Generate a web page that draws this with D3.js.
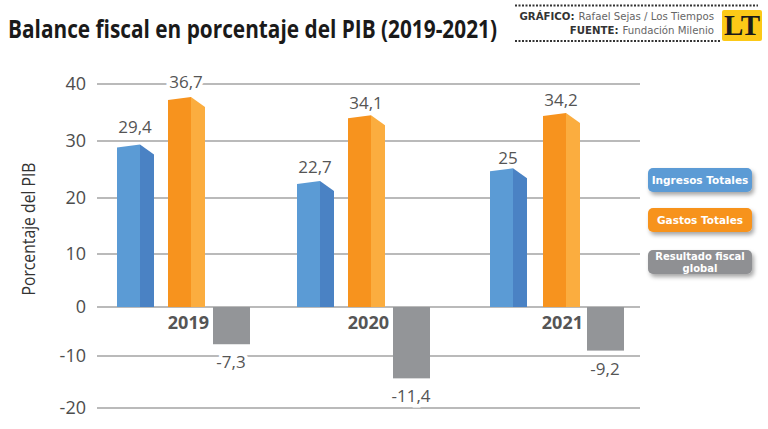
<!DOCTYPE html>
<html>
<head>
<meta charset="utf-8">
<script src="https://cdn.jsdelivr.net/npm/d3@7"></script>
<style>
  html, body { margin: 0; padding: 0; background: #fff; }
  svg { display: block; }
  text { font-family: "Open Sans", sans-serif; }
</style>
</head>
<body>
<div id="chart"></div>
<script>
var years = ["2019", "2020", "2021"];
var yTicks = [40, 30, 20, 10, 0, -10, -20];

// printed labels
var ingresosLabels = ["29,4", "22,7", "25"];
var gastosLabels = ["36,7", "34,1", "34,2"];
var resultadoLabels = ["-7,3", "-11,4", "-9,2"];

// bar heights as read against the axis (the original is not drawn quite to scale)
var ingresos = [29.4, 23, 25.2];
var gastos = [37.7, 34.5, 34.9];
var resultado = [-7.6, -14.3, -8.9];

var legendItems = ["Ingresos Totales", "Gastos Totales", "Resultado fiscal|global"];

var width = 768, height = 429;

var svg = d3.select("#chart").append("svg")
  .attr("width", width)
  .attr("height", height);

var defs = svg.append("defs");
var blur = defs.append("filter").attr("id", "shadow")
  .attr("x", "-10%").attr("y", "-20%").attr("width", "125%").attr("height", "160%");
blur.append("feDropShadow")
  .attr("dx", 2).attr("dy", 3).attr("stdDeviation", 2)
  .attr("flood-color", "#000").attr("flood-opacity", 0.35);

// the axis of the original is slightly uneven, so the scale is piecewise
var y = d3.scaleLinear()
  .domain([-20, -10, 0, 10, 20, 30, 40])
  .range([408, 356, 307, 254, 198, 141, 84]);

// left edge of each bar, the groups are not evenly spaced either
var xBlue = d3.scaleOrdinal().domain(years).range([117, 297, 490]);
var xOrange = d3.scaleOrdinal().domain(years).range([168, 348, 543]);
var xGray = d3.scaleOrdinal().domain(years).range([213, 393, 587]);

// title
svg.append("text")
  .attr("x", 8).attr("y", 38)
  .attr("textLength", 489).attr("lengthAdjust", "spacingAndGlyphs")
  .style("font-family", "'Liberation Sans Narrow', 'Open Sans', sans-serif")
  .style("font-size", "25px").style("font-weight", "bold")
  .style("fill", "#1a1a1a")
  .text("Balance fiscal en porcentaje del PIB (2019-2021)");

// credits
svg.append("line").attr("x1", 515).attr("x2", 758).attr("y1", 5.5).attr("y2", 5.5)
  .attr("stroke", "#333").attr("stroke-width", 2).attr("stroke-dasharray", "2,1.5");
svg.append("line").attr("x1", 515).attr("x2", 720).attr("y1", 41).attr("y2", 41)
  .attr("stroke", "#333").attr("stroke-width", 2).attr("stroke-dasharray", "2,1.5");

var credits = [["GRÁFICO:", "Rafael Sejas / Los Tiempos", 20], ["FUENTE:", "Fundación Milenio", 34]];
credits.forEach(function(c) {
  var t = svg.append("text")
    .attr("x", 714).attr("y", c[2])
    .attr("text-anchor", "end")
    .style("font-family", "'DejaVu Sans', sans-serif")
    .style("font-size", "10.2px").style("fill", "#666")
    .text(c[1]);
  svg.append("text")
    .attr("x", 714 - t.node().getComputedTextLength() - 4).attr("y", c[2])
    .attr("text-anchor", "end")
    .style("font-family", "'DejaVu Sans', sans-serif")
    .style("font-size", "10.2px").style("font-weight", "bold").style("fill", "#333")
    .text(c[0]);
});

// logo
svg.append("rect").attr("x", 722).attr("y", 10).attr("width", 40).attr("height", 31)
  .attr("rx", 2).attr("fill", "#fcc917");
svg.append("text")
  .attr("x", 742).attr("y", 35)
  .attr("text-anchor", "middle")
  .style("font-family", "'Liberation Serif', serif")
  .style("font-size", "29px").style("font-weight", "bold").style("fill", "#1a1a1a")
  .text("LT");

// gridlines
svg.selectAll(".grid")
  .data(yTicks)
  .enter()
  .append("line")
    .attr("class", "grid")
    .attr("x1", 97).attr("x2", 640)
    .attr("y1", function(d) { return y(d); })
    .attr("y2", function(d) { return y(d); })
    .attr("stroke", "#a3a3a3")
    .attr("stroke-width", 1.6);

// y tick labels
svg.selectAll(".tick-label")
  .data(yTicks)
  .enter()
  .append("text")
    .attr("class", "tick-label")
    .attr("x", 86)
    .attr("y", function(d) { return y(d) + 6; })
    .attr("text-anchor", "end")
    .style("font-size", "18px").style("fill", "#4d4d4d")
    .text(function(d) { return d; });

svg.append("text")
  .attr("transform", "translate(35,229) rotate(-90)")
  .attr("text-anchor", "middle")
  .style("font-size", "18px").style("fill", "#333")
  .attr("textLength", 133).attr("lengthAdjust", "spacingAndGlyphs")
  .text("Porcentaje del PIB");

// 3d bars: front face, then the side face
var frontW = 23, sideW = 14;

function bar3d(values, xScale, front, side) {
  var g = svg.append("g");
  values.forEach(function(v, i) {
    var x0 = xScale(years[i]), top = y(v), base = y(0);
    g.append("path")
      .attr("d", d3.line()([[x0, base], [x0, top + 3], [x0 + frontW, top], [x0 + frontW, base]]) + "Z")
      .attr("fill", front);
    g.append("path")
      .attr("d", d3.line()([[x0 + frontW, base], [x0 + frontW, top], [x0 + frontW + sideW, top + 10], [x0 + frontW + sideW, base]]) + "Z")
      .attr("fill", side);
  });
}

bar3d(ingresos, xBlue, "#5b9bd5", "#4a82c4");
bar3d(gastos, xOrange, "#f7931e", "#fbad3f");

svg.selectAll(".neg")
  .data(resultado)
  .enter()
  .append("rect")
    .attr("class", "neg")
    .attr("x", function(d, i) { return xGray(years[i]); })
    .attr("y", y(0))
    .attr("width", 37)
    .attr("height", function(d) { return y(d) - y(0); })
    .attr("fill", "#939598");

// value labels, with a white halo that cuts the gridlines
function valueLabels(labels, values, xScale, cx, dy) {
  svg.append("g").selectAll("text")
    .data(labels)
    .enter()
    .append("text")
      .attr("x", function(d, i) { return xScale(years[i]) + cx; })
      .attr("y", function(d, i) { return y(values[i]) + dy[i]; })
      .attr("text-anchor", "middle")
      .style("font-size", "17px").style("fill", "#555")
      .attr("stroke", "#fff").attr("stroke-width", 7).attr("paint-order", "stroke fill")
      .text(function(d) { return d; });
}

valueLabels(ingresosLabels, ingresos, xBlue, 18, [-11, -8, -4]);
valueLabels(gastosLabels, gastos, xOrange, 18, [-9, -6, -7]);
valueLabels(resultadoLabels, resultado, xGray, 18, [24, 24, 24]);

// year labels
svg.append("g").selectAll("text")
  .data(years)
  .enter()
  .append("text")
    .attr("x", function(d) { return xGray(d) - 4; })
    .attr("y", 329)
    .attr("text-anchor", "end")
    .style("font-size", "18px").style("font-weight", "bold").style("fill", "#555")
    .text(function(d) { return d; });

// legend
var legendColor = d3.scaleOrdinal().domain(legendItems).range(["#5b9bd5", "#f7931e", "#8f9093"]);
var legendY = d3.scaleOrdinal().domain(legendItems).range([168, 208, 250]);

var legend = svg.selectAll(".legend")
  .data(legendItems)
  .enter()
  .append("g")
    .attr("class", "legend")
    .attr("transform", function(d) { return "translate(648," + legendY(d) + ")"; });

legend.append("rect")
  .attr("width", 104).attr("height", 24).attr("rx", 5)
  .attr("fill", function(d) { return legendColor(d); })
  .attr("filter", "url(#shadow)");

legend.each(function(d) {
  var lines = d.split("|");
  d3.select(this).selectAll("text")
    .data(lines)
    .enter()
    .append("text")
      .attr("x", 52)
      .attr("y", function(l, i) { return lines.length == 1 ? 16 : 10 + i * 12; })
      .attr("text-anchor", "middle")
      .style("font-family", "'DejaVu Sans', sans-serif")
      .style("font-size", lines.length == 1 ? "10.5px" : "10px")
      .style("font-weight", "bold").style("fill", "#fff")
      .text(function(l) { return l; });
});
</script>
</body>
</html>
